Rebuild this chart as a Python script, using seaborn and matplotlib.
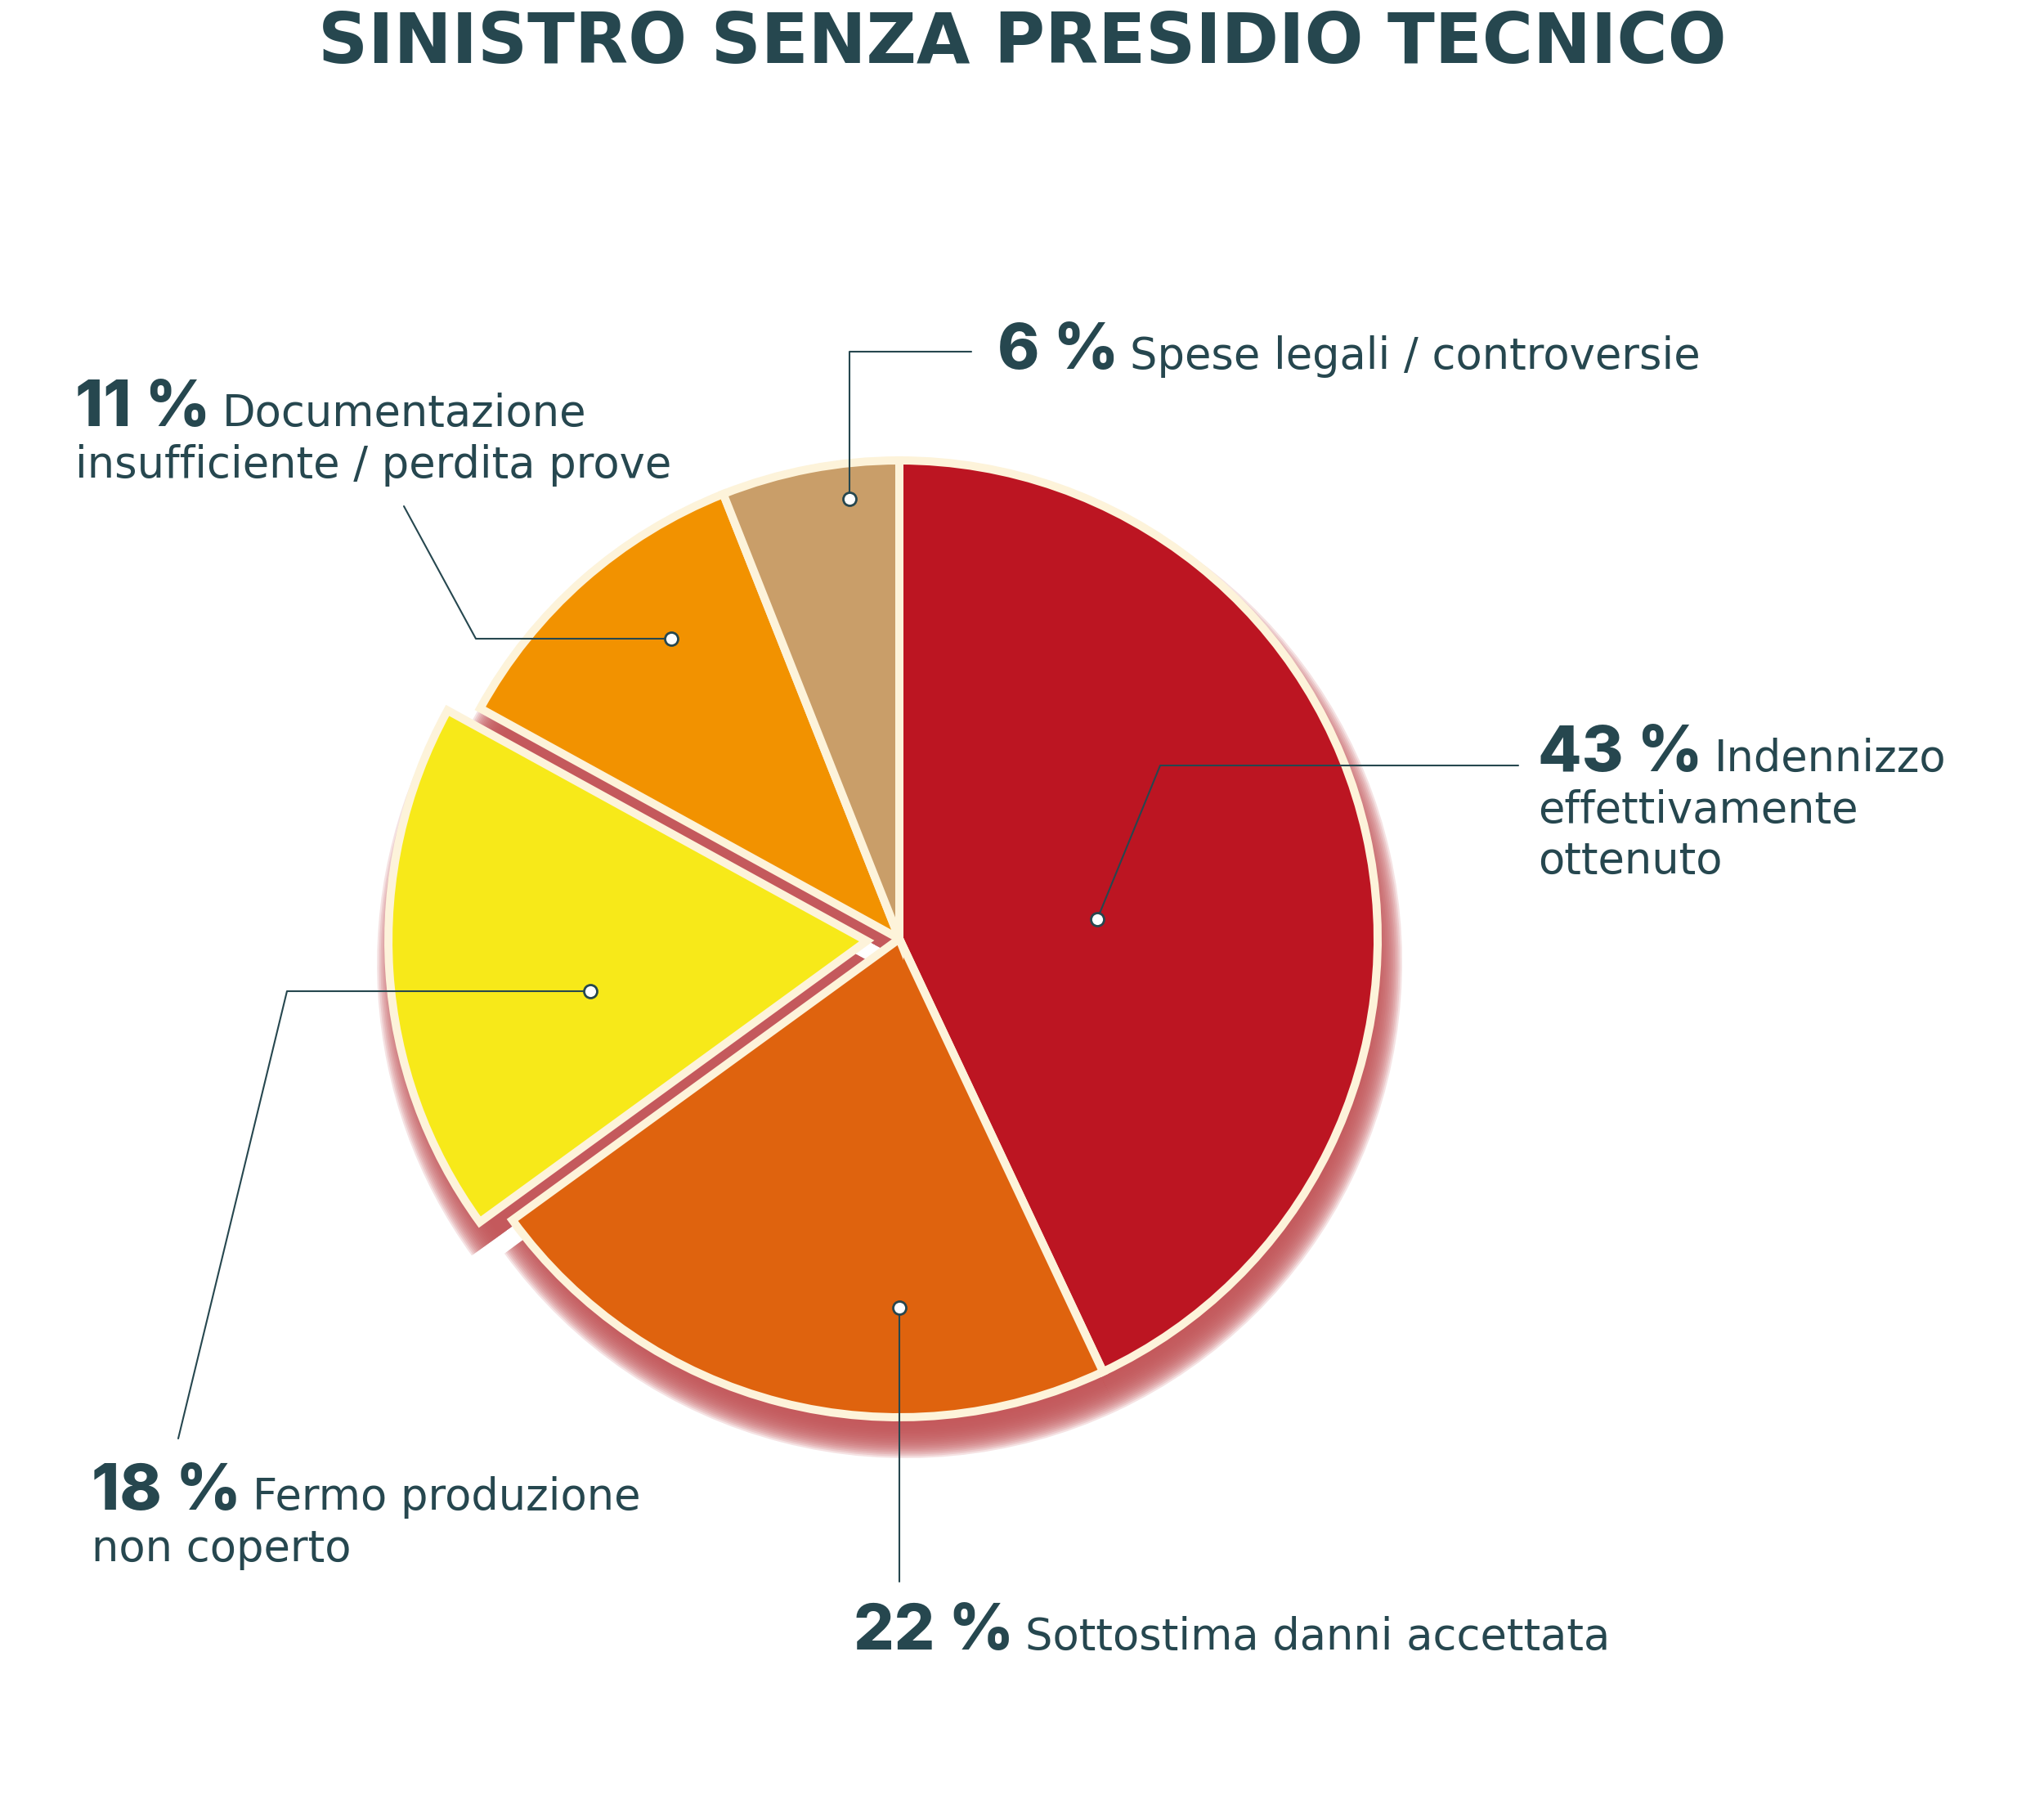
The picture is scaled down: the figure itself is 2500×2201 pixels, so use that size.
import matplotlib
matplotlib.use("Agg")
import matplotlib.pyplot as plt
import seaborn as sns

# ---- data ----
title = "SINISTRO SENZA PRESIDIO TECNICO"
shares = [43, 22, 18, 11, 6]
pct_labels = ["43 %", "22 %", "18 %", "11 %", "6 %"]
descriptions = [
    "Indennizzo\neffettivamente\nottenuto",
    "Sottostima danni accettata",
    "Fermo produzione\nnon coperto",
    "Documentazione\ninsufficiente / perdita prove",
    "Spese legali / controversie",
]
slice_colors = ["#bc1522", "#df630e", "#f7e919", "#f29200", "#c99e69"]
exploded = [False, False, True, False, False]

# ---- layout (pixel coords, origin top-left) ----
W, H = 2500, 2201
ink = "#26474f"
edge = "#fdf3da"
shadow = "#c4585b"
center_px = (1100, 1148)
R = 585
label_base = [(1881, 943), (1044, 2017), (112, 1846), (92, 521), (1220, 451)]
leaders = [
    [(1342, 1124), (1419, 936), (1857, 936)],
    [(1100, 1599), (1100, 1934)],
    [(722, 1212), (351, 1212), (218, 1759)],
    [(821, 781), (582, 781), (494, 619)],
    [(1039, 610), (1039, 430), (1188, 430)],
]
num_font = ["Inter", "Lato", "DejaVu Sans"]
desc_font = ["DejaVu Sans"]


def px(x, y):
    return x, H - y


sns.set_theme(style="white")
plt.rcParams["font.family"] = ["DejaVu Sans"]

fig = plt.figure(figsize=(W / 100, H / 100), dpi=100)
ax = fig.add_axes([0, 0, 1, 1])

cx, cy = px(*center_px)
explode = [40 if e else 0 for e in exploded]

# soft shadow: stacked translucent copies of the pie, shifted down-right
n = 20
for k in range(n):
    r = R - 20 + 42 * k / (n - 1)
    ax.pie(shares, radius=r, center=(cx + 8, cy - 28), startangle=90,
           counterclock=False, explode=explode, colors=[shadow] * len(shares),
           wedgeprops=dict(linewidth=0, alpha=0.17), frame=False)

wedges, _ = ax.pie(shares, radius=R, center=(cx, cy), startangle=90,
                   counterclock=False, explode=explode,
                   colors=sns.color_palette(slice_colors),
                   wedgeprops=dict(edgecolor=edge, linewidth=7.2), frame=False)

# leader lines with dots
for path in leaders:
    xs = [px(*p)[0] for p in path]
    ys = [px(*p)[1] for p in path]
    ax.plot(xs, ys, color=ink, lw=1.5, zorder=5)
    ax.plot(xs[0], ys[0], "o", ms=11.5, mfc="white", mec=ink, mew=2, zorder=6)

# labels
for pct, desc, base in zip(pct_labels, descriptions, label_base):
    lines = desc.split("\n")
    x, y = px(*base)
    t = ax.text(x, y, pct, fontsize=56, fontweight="heavy", color=ink,
                ha="left", va="baseline", family=num_font)
    ax.annotate(lines[0], xy=(1, y), xycoords=(t, "data"), xytext=(14, 0),
                textcoords="offset pixels", fontsize=38, color=ink,
                ha="left", va="baseline", family=desc_font)
    for i, line in enumerate(lines[1:], 1):
        ax.text(x, y - i * 63, line, fontsize=38, color=ink,
                ha="left", va="baseline", family=desc_font)

ax.text(W / 2, H - 77, title, ha="center", va="baseline", fontsize=61,
        fontweight="bold", color=ink, family=["DejaVu Sans"])

ax.set_xlim(0, W)
ax.set_ylim(0, H)
ax.set_aspect("auto")
ax.axis("off")

fig.savefig("out.png", dpi=100, facecolor="white")
